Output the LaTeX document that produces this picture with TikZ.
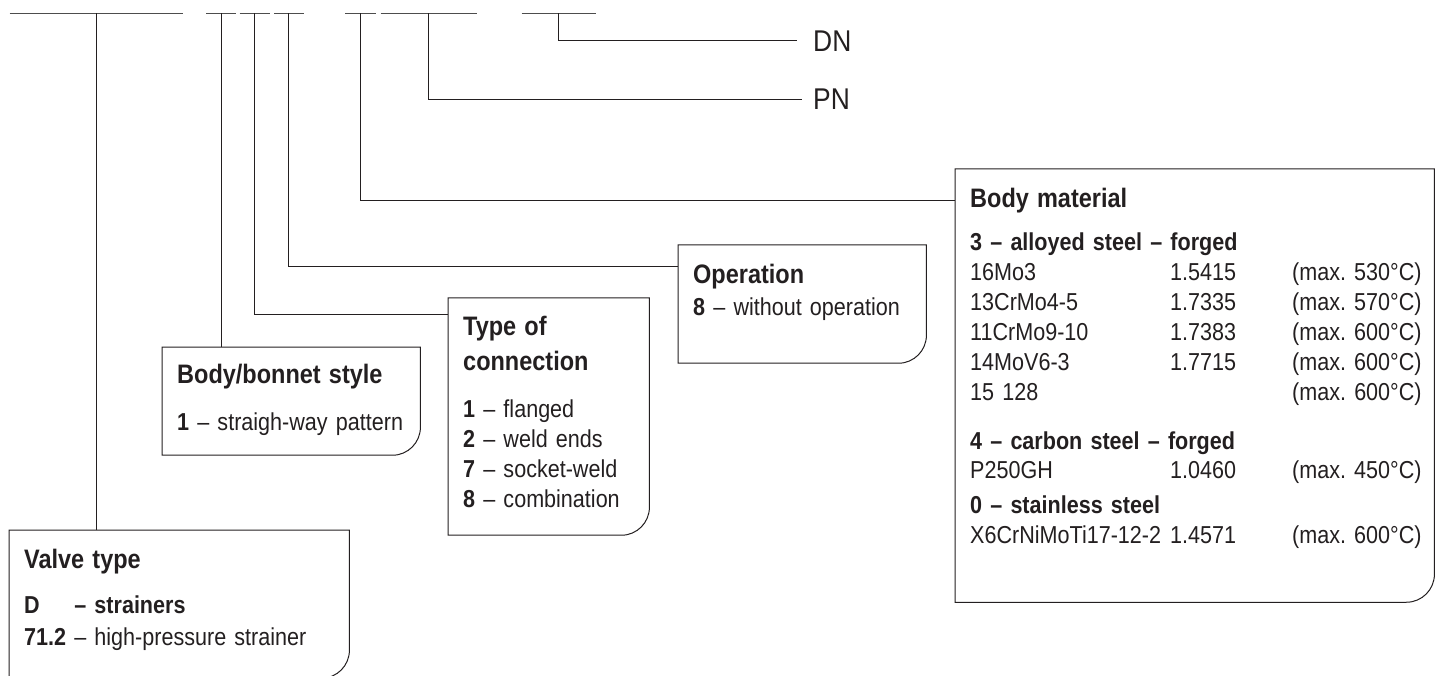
\documentclass[tikz,border=0pt]{standalone}
\usepackage{fontspec}
\setmainfont{Liberation Sans}[FakeStretch=0.88]
\usetikzlibrary{positioning}
\frenchspacing

\definecolor{ink}{HTML}{231F20}
\definecolor{slotgray}{HTML}{4D4D4D}

% outline of a key box, bottom right corner rounded
\newcommand\tagframe[1]{%
  \draw[frame] (#1.north west) -- (#1.north east)
    [rounded corners=28pt] -- (#1.south east)
    [sharp corners] -- (#1.south west) -- cycle;}
% heading of a key box
\newcommand\tagtitle[1]{{\fontsize{26.7}{29}\selectfont\bfseries #1}}
% one row of the material table
\newcommand\matrow[3]{\makebox[200pt][l]{#1}\makebox[122pt][l]{#2}\makebox[120pt][l]{#3}}

\begin{document}
\begin{tikzpicture}[
    x=1pt, y=-1pt,
    font=\fontsize{24.5}{29}\selectfont,
    every node/.style={text=ink},
]
\tikzset{
    slot/.style={draw=slotgray, line width=1.5pt},
    lead/.style={draw=ink, line width=1pt},
    frame/.style={draw=ink, line width=1pt},
    tagbox/.style={anchor=north west, align=left, inner xsep=15pt},
    code/.style={anchor=west, inner xsep=12pt, font=\fontsize{30}{32}\selectfont},
}
\useasboundingbox (0,0) rectangle (1435,676);

% ── Code positions (top rule) ──
\foreach \name/\cx/\hw in {cValve/96.25/86.75, cBonnet/221/15, cConn/254.75/15.25,
    cOper/288.75/14.75, cMat/360.5/15.5, cPN/428.6/48, cDN/558.85/37.15}
{
    \coordinate (\name) at (\cx,13.5);
    \draw[slot] (\cx-\hw,13.5) -- (\cx+\hw,13.5);
}

% ── Key boxes ──
\node[tagbox, text width=310pt, inner ysep=18.5pt, text depth=91.5pt] (valve) at (9,530) {%
    \tagtitle{Valve type}\\[16pt]
    \textbf{\rlap{D}\phantom{71.2} – strainers}\\[3pt]
    \textbf{71.2} – high-pressure strainer};
\tagframe{valve}

\node[tagbox, text width=228pt, inner ysep=16.5pt, text depth=55.5pt] (bonnet) at (162,347) {%
    \tagtitle{Body/bonnet style}\\[18pt]
    \textbf{1} – straigh-way pattern};
\tagframe{bonnet}

\node[tagbox, text width=171pt, inner ysep=17.5pt, text depth=182.5pt] (conn) at (448,298) {%
    \tagtitle{Type of\\[6pt]connection}\\[18pt]
    \textbf{1} – flanged\\[1pt]
    \textbf{2} – weld ends\\[1pt]
    \textbf{7} – socket-weld\\[1pt]
    \textbf{8} – combination};
\tagframe{conn}

\node[tagbox, text width=218pt, inner ysep=18.5pt, text depth=61.5pt] (oper) at (678,245) {%
    \tagtitle{Operation}\\[3pt]
    \textbf{8} – without operation};
\tagframe{oper}

\node[tagbox, text width=449pt, inner ysep=18.5pt, text depth=376.5pt,
      font=\fontsize{24.5}{30}\selectfont] (mat) at (955,169) {%
    \tagtitle{Body material}\\[13pt]
    \textbf{3 – alloyed steel – forged}\\
    \matrow{16Mo3}{1.5415}{(max. 530°C)}\\
    \matrow{13CrMo4-5}{1.7335}{(max. 570°C)}\\
    \matrow{11CrMo9-10}{1.7383}{(max. 600°C)}\\
    \matrow{14MoV6-3}{1.7715}{(max. 600°C)}\\
    \matrow{15 128}{}{(max. 600°C)}\\[19pt]
    \textbf{4 – carbon steel – forged}\\[-1pt]
    \matrow{P250GH}{1.0460}{(max. 450°C)}\\[5pt]
    \textbf{0 – stainless steel}\\
    \matrow{X6CrNiMoTi17-12-2}{1.4571}{(max. 600°C)}};
\tagframe{mat}

% ── Size labels ──
\node[code, inner xsep=16pt] (dn) at (797,40.7) {DN};
\node[code, inner xsep=11pt] (pn) at (802,99.3) {PN};

% ── Leaders ──
\draw[lead] (cValve) -- (cValve |- valve.north);
\draw[lead] (cBonnet) -- (cBonnet |- bonnet.north);
\draw[lead] (cConn) |- ([yshift=-17pt]conn.north west);
\draw[lead] (cOper) |- ([yshift=-22pt]oper.north west);
\draw[lead] (cMat) |- ([yshift=-32pt]mat.north west);
\draw[lead] (cPN) |- (pn.west);
\draw[lead] (cDN) |- (dn.west);

\end{tikzpicture}
\end{document}
